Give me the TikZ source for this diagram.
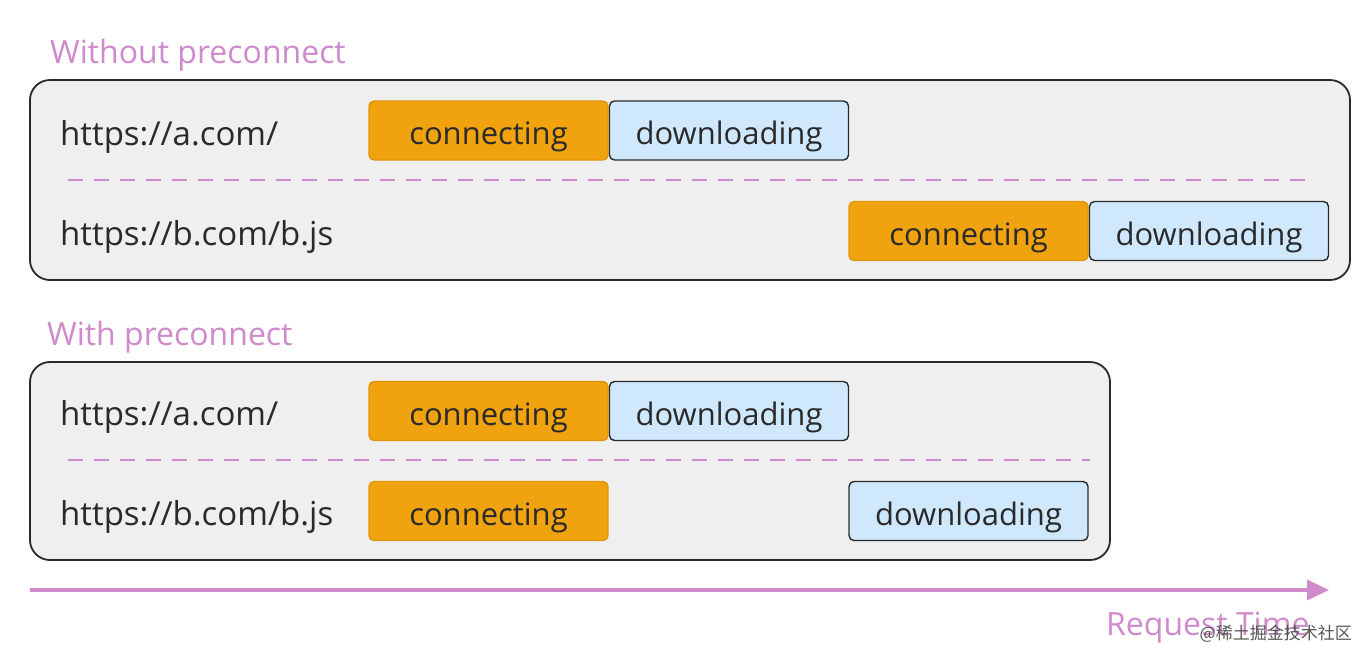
\documentclass[tikz,border=0pt]{standalone}
\usepackage{fontspec}
\setmainfont{Open Sans}
\newfontfamily\cjk{Noto Sans CJK SC}
\usetikzlibrary{arrows.meta}
\definecolor{pinkc}{HTML}{CF8ACB}
\definecolor{orangef}{HTML}{F0A30E}
\definecolor{oranged}{HTML}{E0940A}
\definecolor{bluef}{HTML}{D0E8FC}
\definecolor{darkc}{HTML}{2A2A2A}
\definecolor{panelf}{HTML}{EFEFEF}
\tikzset{
  panel/.style={draw=darkc, line width=1.8pt, fill=panelf, rounded corners=20pt},
  boxtext/.style={inner sep=0pt, font=\fontsize{31}{34}\selectfont, text=darkc, text height=30pt, text depth=2pt},
  connbox/.style={boxtext, draw=oranged, line width=1.4pt, fill=orangef, rounded corners=5pt, minimum width=239pt, minimum height=59pt},
  dlbox/.style={boxtext, draw=darkc, line width=1.4pt, fill=bluef, rounded corners=5pt, minimum width=239pt, minimum height=59pt},
  urllabel/.style={anchor=base west, inner sep=0pt, font=\fontsize{33}{36}\selectfont, text=darkc},
  title/.style={anchor=base west, inner sep=0pt, font=\fontsize{32}{36}\selectfont, text=pinkc},
  sep/.style={draw=pinkc, line width=2.2pt, dash pattern=on 15pt off 11pt}
}
\begin{document}
\begin{tikzpicture}[x=1pt,y=-1pt]
\useasboundingbox (0,0) rectangle (1370,662);
% top
\node[title] (t1) at (50,63) {Without preconnect};
\draw[panel] (30,80) rectangle (1350,280);
\node[urllabel] (u1) at (60,145) {https://a.com/};
\node[connbox] (c1) at (488.5,130.5) {connecting};
\node[dlbox] (d1) at (729,130.5) {downloading};
\coordinate (s1a) at (68,180);
\coordinate (s1b) at (1305,180);
\draw[sep] (s1a) -- (s1b);
\node[urllabel] (u2) at (60,245) {https://b.com/b.js};
\node[connbox] (c2) at (968.5,231) {connecting};
\node[dlbox] (d2) at (1209,231) {downloading};
% bottom
\node[title] (t2) at (47,345) {With preconnect};
\draw[panel] (30,362) rectangle (1110,560);
\node[urllabel] (u3) at (60,425) {https://a.com/};
\node[connbox] (c3) at (488.5,411) {connecting};
\node[dlbox] (d3) at (729,411) {downloading};
\coordinate (s2a) at (68,460);
\coordinate (s2b) at (1090,460);
\draw[sep] (s2a) -- (s2b);
\node[urllabel] (u4) at (60,525) {https://b.com/b.js};
\node[connbox] (c4) at (488.5,511) {connecting};
\node[dlbox] (d4) at (968.5,511) {downloading};
% time arrow
\coordinate (ta) at (30,590);
\coordinate (tb) at (1329,590);
\draw[pinkc, line width=3.5pt, -{Triangle[length=22pt,width=20pt]}] (ta) -- (tb);
\node[anchor=base west, inner sep=0pt, font=\fontsize{32}{36}\selectfont, text=pinkc] (rt) at (1106,635) {Request Time};
\node[anchor=base east, inner sep=0pt, font=\cjk\fontsize{17}{20}\selectfont, text=darkc!80] (wm) at (1352,639) {@稀土掘金技术社区};
\end{tikzpicture}
\end{document}
